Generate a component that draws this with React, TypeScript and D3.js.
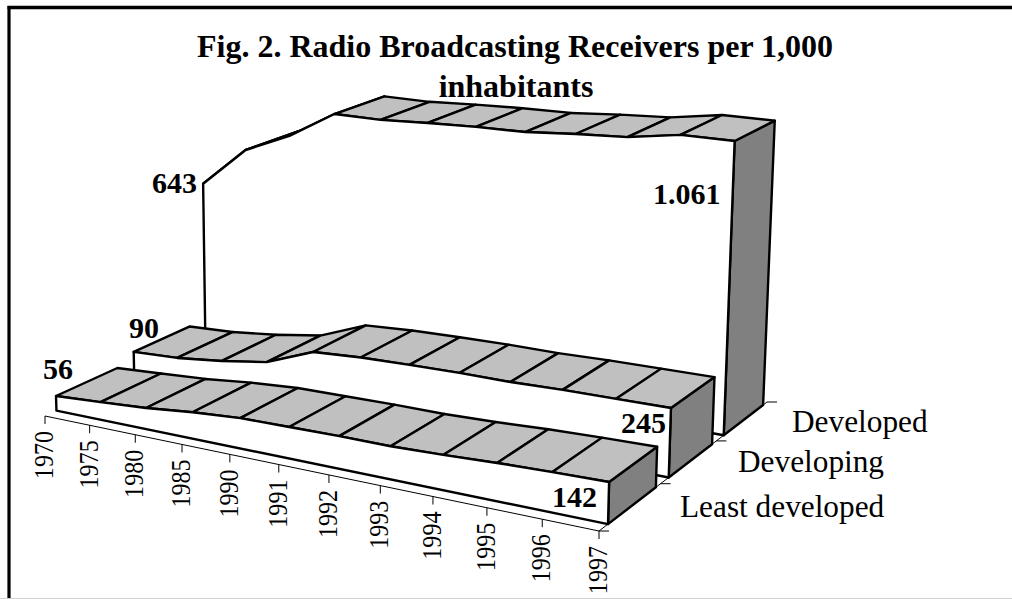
import React from "react";
import * as d3 from "d3";

const years = ["1970","1975","1980","1985","1990","1991","1992","1993","1994","1995","1996","1997"];
const seriesNames = ["Least developed","Developing","Developed"];
const leastDeveloped = [56,67,79,98,111,114,117,117,123,132,138,142];
const developing = [90,98,118,146,217,228,233,236,236,241,243,245];
const developed = [643,801,879,985,984,994,1001,1004,1019,1030,1060,1061];
const titleLines = ["Fig. 2. Radio Broadcasting Receivers per 1,000","inhabitants"];

const W = 1012, H = 599;
const font = "'Liberation Serif','Times New Roman',serif";
const uScale = d3.scalePoint<number>().domain(d3.range(years.length)).range([0,1]);
const bandScale = d3.scaleBand<number>().domain([0,1,2]).range([0,1]).paddingInner(0).paddingOuter(0);
const valueScale = d3.scaleLinear().domain([0,1000]).range([0,-0.0261]);

// floor quad (front-left, front-right, back-right, back-left)
const quad = [[45,416],[599,531],[767,402],[262,315]];
const vanish = [350,10500];
function solveHomography() {
  const [p0,p1,p2,p3] = quad;
  const sx = p0[0]-p1[0]+p2[0]-p3[0], sy = p0[1]-p1[1]+p2[1]-p3[1];
  const dx1 = p1[0]-p2[0], dx2 = p3[0]-p2[0], dy1 = p1[1]-p2[1], dy2 = p3[1]-p2[1];
  const det = dx1*dy2-dx2*dy1;
  const g = (sx*dy2-dx2*sy)/det, h = (dx1*sy-sx*dy1)/det;
  return {g,h,
    ax:(1+g)*p1[0]-p0[0], ay:(1+g)*p1[1]-p0[1],
    bx:(1+h)*p3[0]-p0[0], by:(1+h)*p3[1]-p0[1]};
}
const hm = solveHomography();
function project(u:number,w:number,v:number):[number,number]{
  const c = valueScale(v);
  const den = 1+hm.g*u+hm.h*w+c;
  return [
    (quad[0][0]+hm.ax*u+hm.bx*w+c*vanish[0])/den,
    (quad[0][1]+hm.ay*u+hm.by*w+c*vanish[1])/den,
  ];
}
const line = d3.line<[number,number]>();
const poly = (pts:[number,number][]) => (line(pts) ?? "") + "Z";

const series = [leastDeveloped,developing,developed];

function Ribbon({idx}:{idx:number}){
  const vals = series[idx];
  const bw = bandScale.bandwidth();
  const w0 = bandScale(idx)! + bw*0.14, w1 = bandScale(idx)! + bw*0.92;
  const n = vals.length;
  const slats = d3.range(n-1).map(i=>{
    const a=uScale(i)!, b=uScale(i+1)!;
    return poly([project(a,w0,vals[i]),project(b,w0,vals[i+1]),project(b,w1,vals[i+1]),project(a,w1,vals[i])]);
  });
  const wall:[number,number][] = [
    ...vals.map((v,i)=>project(uScale(i)!,w0,v)),
    project(1,w0,0),project(0,w0,0)
  ];
  const end = poly([project(1,w0,0),project(1,w1,0),project(1,w1,vals[n-1]),project(1,w0,vals[n-1])]);
  const sw=2.4;
  return <g stroke="#000" strokeWidth={sw} strokeLinejoin="round">
    <path d={end} fill="#808080"/>
    {slats.map((d,i)=><path key={i} d={d} fill="#c0c0c0"/>)}
    <path d={poly(wall)} fill="#fff"/>
  </g>;
}

export default function App(){
  const front = years.map((_,i)=>project(uScale(i)!,0,0));
  const depthTicks = [0,1,2,3].map(k=>project(1,k/3,0));
  return <svg width={W} height={H} viewBox={`0 0 ${W} ${H}`} style={{position:"absolute",left:0,top:0,display:"block",background:"#fff"}}>
    <line x1={7.5} x2={W} y1={7.5} y2={7.5} stroke="#000" strokeWidth={3.4}/>
    <line x1={9} x2={9} y1={6} y2={598} stroke="#000" strokeWidth={3.2}/>
    <line x1={0} x2={W} y1={598.5} y2={598.5} stroke="#d0d0d0" strokeWidth={1}/>
    <g textAnchor="middle" fontFamily={font} fontWeight="bold" fontSize={32} fill="#000">
      <text x={515} y={57}>{titleLines[0]}</text>
      <text x={516} y={97}>{titleLines[1]}</text>
    </g>
    <path d={line([project(0,0,0),project(1,0,0),project(1,1,0)]) ?? ""} fill="none" stroke="#000" strokeWidth={1}/>
    {front.map((p,i)=><g key={i}>
      <line x1={p[0]} x2={p[0]} y1={p[1]} y2={p[1]+8} stroke="#000" strokeWidth={1}/>
      <text transform={`translate(${p[0]+8},${p[1]+15}) rotate(-90) scale(0.86,1)`} textAnchor="end" fontFamily={font} fontSize={28} fill="#000">{years[i]}</text>
    </g>)}
    {depthTicks.map((p,i)=><line key={i} x1={p[0]} x2={p[0]+10} y1={p[1]} y2={p[1]} stroke="#000" strokeWidth={1}/>)}
    <Ribbon idx={2}/><Ribbon idx={1}/><Ribbon idx={0}/>
    <g fontFamily={font} fontSize={31.3} fill="#000">
      <text x={792} y={432}>{seriesNames[2]}</text>
      <text x={738} y={472}>{seriesNames[1]}</text>
      <text x={680} y={517}>{seriesNames[0]}</text>
    </g>
    <g fontFamily={font} fontSize={30} fontWeight="bold" fill="#000">
      <text x={152} y={193}>643</text>
      <text x={653} y={204}>1.061</text>
      <text x={129} y={338}>90</text>
      <text x={43} y={379}>56</text>
      <text x={621} y={433}>245</text>
      <text x={552} y={507}>142</text>
    </g>
  </svg>;
}
